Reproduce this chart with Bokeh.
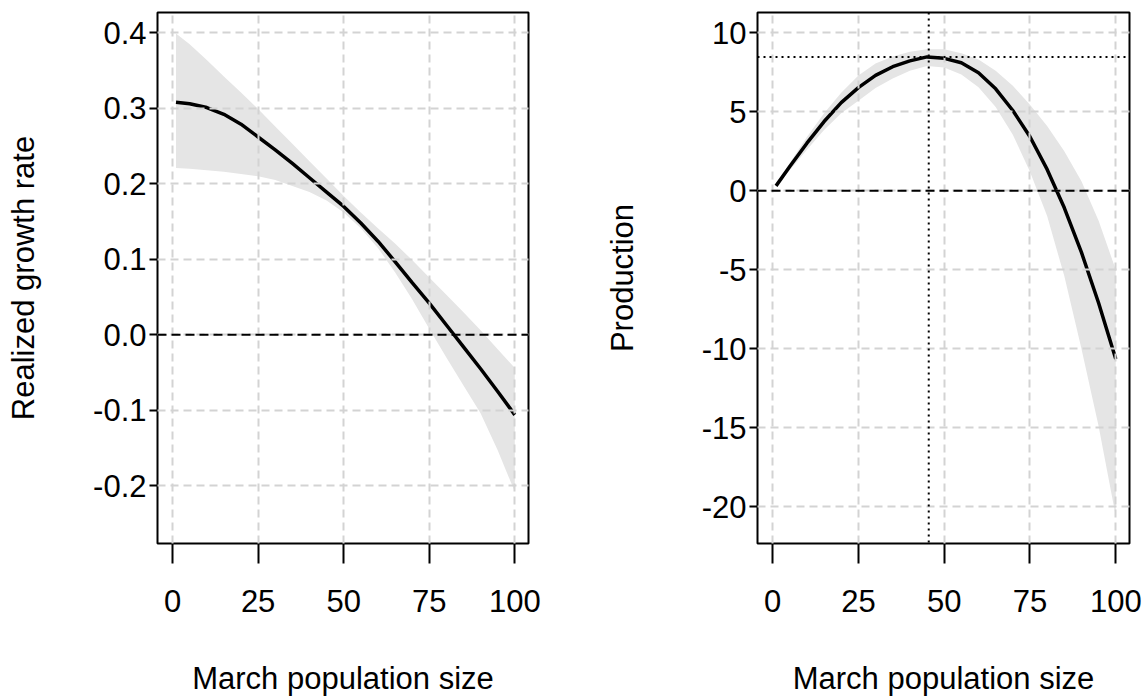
from bokeh.plotting import figure
from bokeh.layouts import row
from bokeh.models import Span, FixedTicker, NumeralTickFormatter
from bokeh.embed import file_html
from bokeh.resources import INLINE

# ---- data ----
N = [1, 5, 10, 15, 20, 25, 30, 35, 40, 45, 50, 55, 60, 65, 70, 75, 80, 85, 90, 95, 100]

r_fit = [0.308, 0.306, 0.301, 0.292, 0.279, 0.262, 0.245, 0.227, 0.208, 0.189, 0.170,
         0.148, 0.124, 0.097, 0.069, 0.042, 0.013, -0.016, -0.045, -0.075, -0.106]
r_upper = [0.399, 0.385, 0.364, 0.342, 0.321, 0.299, 0.276, 0.253, 0.230, 0.207, 0.184,
           0.162, 0.141, 0.121, 0.099, 0.076, 0.053, 0.030, 0.006, -0.019, -0.044]
r_lower = [0.221, 0.220, 0.218, 0.216, 0.213, 0.210, 0.205, 0.197, 0.189, 0.178, 0.162,
           0.141, 0.115, 0.083, 0.047, 0.008, -0.030, -0.067, -0.104, -0.153, -0.208]

P_fit = [0.31, 1.53, 3.01, 4.38, 5.58, 6.53, 7.30, 7.85, 8.22, 8.47, 8.38,
         8.10, 7.47, 6.45, 5.08, 3.42, 1.35, -1.08, -3.90, -7.10, -10.65]
P_upper = [0.35, 1.75, 3.40, 4.90, 6.20, 7.30, 8.05, 8.50, 8.80, 8.95, 8.95,
           8.70, 8.30, 7.60, 6.65, 5.45, 4.10, 2.50, 0.60, -1.90, -5.00]
P_lower = [0.27, 1.30, 2.60, 3.85, 4.90, 5.70, 6.50, 7.10, 7.60, 7.90, 7.80,
           7.35, 6.55, 5.30, 3.55, 1.20, -1.60, -5.40, -10.00, -14.90, -20.60]

peak_N = 45.5
peak_P = 8.47

x_ticks = [0, 25, 50, 75, 100]
r_ticks = [-0.2, -0.1, 0.0, 0.1, 0.2, 0.3, 0.4]
P_ticks = [-20, -15, -10, -5, 0, 5, 10]

xlabel = "March population size"
ylabel_left = "Realized growth rate"
ylabel_right = "Production"

FONT = "Liberation Sans"
FS = "31px"
BAND = "#E5E5E5"
GRID = "#D3D3D3"


def style(p, yticks, yfmt, ylab):
    p.outline_line_color = "black"
    p.outline_line_width = 2
    p.background_fill_color = "white"
    p.border_fill_color = "white"
    p.xaxis.ticker = FixedTicker(ticks=x_ticks)
    p.yaxis.ticker = FixedTicker(ticks=yticks)
    p.yaxis.formatter = NumeralTickFormatter(format=yfmt)
    for ax in (p.xaxis[0], p.yaxis[0]):
        ax.axis_line_color = None
        ax.major_tick_in = 0
        ax.minor_tick_out = 0
        ax.minor_tick_in = 0
        ax.major_tick_line_width = 2
        ax.major_tick_line_color = "black"
        ax.major_label_text_font = FONT
        ax.major_label_text_font_size = FS
        ax.major_label_text_color = "black"
        ax.axis_label_text_font = FONT
        ax.axis_label_text_font_size = FS
        ax.axis_label_text_font_style = "normal"
        ax.axis_label_text_color = "black"
    p.xaxis.major_tick_out = 20
    p.yaxis.major_tick_out = 8
    p.xaxis.axis_label = xlabel
    p.xaxis.major_label_standoff = 26
    p.xaxis.axis_label_standoff = 46
    p.yaxis.axis_label = ylab
    p.yaxis.major_label_standoff = 3
    for g in (p.xgrid[0], p.ygrid[0]):
        g.grid_line_color = GRID
        g.grid_line_width = 2
        g.grid_line_dash = "8 5"
        g.level = "annotation"


# ---- left panel ----
p1 = figure(width=572, height=698, x_range=(-4.4, 104.0), y_range=(-0.2764, 0.4269),
            output_backend="svg", toolbar_location=None,
            min_border_left=157, min_border_right=44, min_border_top=12, min_border_bottom=155)
p1.varea(x=N, y1=r_lower, y2=r_upper, fill_color=BAND)
p1.line(x=N, y=r_fit, line_color="black", line_width=3.5)
p1.add_layout(Span(location=0, dimension="width", line_color="black",
                   line_width=2, line_dash="9 5", level="annotation"))
style(p1, r_ticks, "0.0", ylabel_left)
p1.yaxis.axis_label_standoff = 49

# ---- right panel ----
p2 = figure(width=572, height=698, x_range=(-4.4, 104.0), y_range=(-22.32, 11.28),
            output_backend="svg", toolbar_location=None,
            min_border_left=185, min_border_right=15, min_border_top=12, min_border_bottom=155)
p2.varea(x=N, y1=P_lower, y2=P_upper, fill_color=BAND)
p2.line(x=N, y=P_fit, line_color="black", line_width=3.5)
p2.add_layout(Span(location=0, dimension="width", line_color="black",
                   line_width=2, line_dash="9 5", level="annotation"))
p2.add_layout(Span(location=peak_P, dimension="width", line_color="black",
                   line_width=2, line_dash="2 4", level="annotation"))
p2.add_layout(Span(location=peak_N, dimension="height", line_color="black",
                   line_width=2, line_dash="2 4", level="annotation"))
style(p2, P_ticks, "0", ylabel_right)
p2.yaxis.axis_label_standoff = 59

layout = row(p1, p2)
open("out.html", "w").write(file_html(layout, INLINE))
